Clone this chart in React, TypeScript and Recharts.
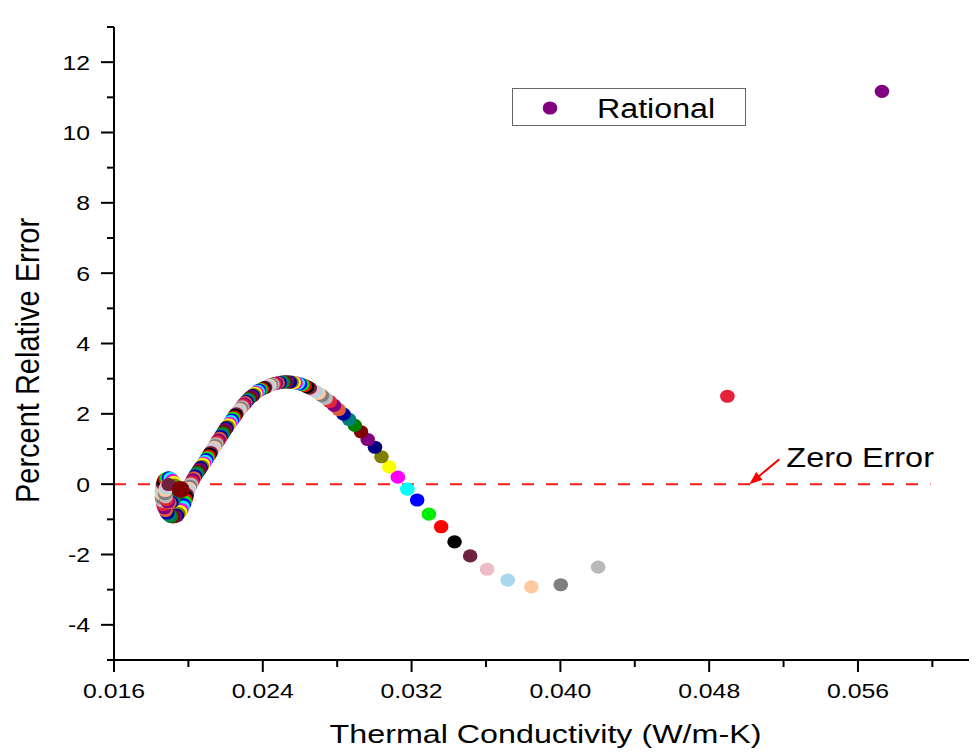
import React from "react";
import { ScatterChart, Scatter, XAxis, YAxis, ReferenceLine, ReferenceDot } from "recharts";

// thermal conductivity (W/m-K), in the plotted order
const conductivity = [
  0.05729, 0.04898, 0.04203, 0.04002, 0.03844, 0.03717, 0.03606, 0.03515, 0.03431, 0.03359,
  0.03293, 0.0323, 0.03177, 0.03126, 0.0308, 0.03038, 0.03003, 0.02964, 0.02928, 0.02895,
  0.02864, 0.02834, 0.02808, 0.02783, 0.0276, 0.02738, 0.02718, 0.027, 0.02683, 0.02667,
  0.02652, 0.02638, 0.02625, 0.02612, 0.026, 0.02588, 0.02577, 0.02566, 0.02555, 0.02545,
  0.0253, 0.0252, 0.0251, 0.025, 0.0249, 0.0248, 0.0247, 0.02461, 0.02452, 0.02444,
  0.02436, 0.02428, 0.0242, 0.02412, 0.02404, 0.02396, 0.02388, 0.0238, 0.02373, 0.02366,
  0.02359, 0.02352, 0.02345, 0.02338, 0.02331, 0.02324, 0.02318, 0.02312, 0.02306, 0.023,
  0.02294, 0.02288, 0.02282, 0.02276, 0.0227, 0.02264, 0.02258, 0.02252, 0.02246, 0.0224,
  0.02234, 0.02228, 0.02222, 0.02216, 0.0221, 0.02204, 0.02198, 0.02192, 0.02186, 0.0218,
  0.02174, 0.02168, 0.02162, 0.02156, 0.0215, 0.02144, 0.02138, 0.02132, 0.02126, 0.0212,
  0.02114, 0.02108, 0.02102, 0.02096, 0.0209, 0.02084, 0.02078, 0.02072, 0.02066, 0.0206,
  0.02054, 0.02048, 0.02042, 0.02036, 0.0203, 0.02024, 0.02018, 0.02013, 0.02008, 0.02003,
  0.01999, 0.01995, 0.01991, 0.01988, 0.01984, 0.0198, 0.01975, 0.01969, 0.01962, 0.01955,
  0.01947, 0.01938, 0.01928, 0.01917, 0.01906, 0.01895, 0.01886, 0.01878, 0.01871, 0.01865,
  0.01861, 0.01858, 0.01857, 0.01857, 0.01859, 0.01863, 0.01869, 0.01876, 0.01885, 0.01895,
  0.01905, 0.01914, 0.01921, 0.01927, 0.01931, 0.01932, 0.0193, 0.01925, 0.01917, 0.01908,
  0.01898, 0.01889, 0.01882, 0.01877, 0.01875, 0.01876, 0.0188, 0.01886, 0.01894, 0.01958,
];

// percent relative error, same order
const relError = [
  11.17, 2.5, -2.36, -2.86, -2.92, -2.73, -2.42, -2.04, -1.64, -1.21,
  -0.85, -0.45, -0.14, 0.2, 0.49, 0.78, 1.05, 1.27, 1.49, 1.67,
  1.84, 1.99, 2.12, 2.24, 2.35, 2.44, 2.52, 2.58, 2.64, 2.69,
  2.73, 2.77, 2.8, 2.83, 2.85, 2.87, 2.88, 2.89, 2.9, 2.9,
  2.91, 2.91, 2.9, 2.9, 2.89, 2.88, 2.87, 2.86, 2.84, 2.83,
  2.81, 2.79, 2.77, 2.75, 2.73, 2.71, 2.69, 2.67, 2.64, 2.61,
  2.58, 2.55, 2.52, 2.49, 2.46, 2.42, 2.39, 2.35, 2.32, 2.28,
  2.24, 2.2, 2.16, 2.12, 2.08, 2.04, 2.0, 1.96, 1.91, 1.87,
  1.82, 1.78, 1.73, 1.69, 1.64, 1.6, 1.55, 1.5, 1.45, 1.4,
  1.35, 1.3, 1.25, 1.2, 1.15, 1.1, 1.05, 1.0, 0.95, 0.9,
  0.85, 0.8, 0.75, 0.7, 0.65, 0.6, 0.56, 0.51, 0.47, 0.42,
  0.37, 0.33, 0.28, 0.23, 0.18, 0.12, 0.06, 0.0, -0.06, -0.12,
  -0.18, -0.24, -0.3, -0.37, -0.44, -0.51, -0.58, -0.65, -0.72, -0.78,
  -0.84, -0.89, -0.92, -0.93, -0.92, -0.88, -0.82, -0.75, -0.67, -0.58,
  -0.48, -0.38, -0.28, -0.18, -0.08, 0.01, 0.09, 0.14, 0.17, 0.18,
  0.16, 0.11, 0.05, -0.03, -0.12, -0.22, -0.32, -0.41, -0.48, -0.52,
  -0.53, -0.5, -0.44, -0.36, -0.27, -0.18, -0.1, -0.04, -0.01, -0.15,
];

const xTicks = [0.016, 0.02, 0.024, 0.028, 0.032, 0.036, 0.04, 0.044, 0.048, 0.052, 0.056, 0.06];
const yTicks = [-5, -4, -3, -2, -1, 0, 1, 2, 3, 4, 5, 6, 7, 8, 9, 10, 11, 12, 13];

const COLORS = [
  "#800080", "#e6213c", "#b9b9b9", "#7f7f7f", "#ffc8a0", "#a8d8ec", "#ecbcc8", "#6e2340",
  "#000000", "#ff0000", "#00ee00", "#0000ff", "#00ffff", "#ff00ff", "#ffff00", "#808000",
  "#000080", "#800080", "#800000", "#008000", "#008080", "#000099", "#e25a3a",
];

const data = conductivity.map((k, i) => ({ k, err: relError[i], idx: i }));

const FONT = "'Liberation Sans', Arial, sans-serif";

function XTick(props: any) {
  const { x, y, payload } = props;
  const v = payload.value;
  const major = Math.round((v - 0.016) / 0.004) % 2 === 0;
  return (
    <g>
      <line x1={x} x2={x} y1={y} y2={y + (major ? 12 : 7)} stroke="#000" strokeWidth={2} />
      {major && (
        <text
          transform={`translate(${x},${y + 38}) scale(1.18,1)`}
          textAnchor="middle"
          fontSize={21}
          fontFamily={FONT}
          fill="#000"
        >
          {v.toFixed(3)}
        </text>
      )}
    </g>
  );
}

function YTick(props: any) {
  const { x, y, payload } = props;
  const v = payload.value;
  const major = v % 2 === 0;
  return (
    <g>
      <line x1={x - (major ? 13 : 7)} x2={x} y1={y} y2={y} stroke="#000" strokeWidth={2} />
      {major && (
        <text
          transform={`translate(${x - 24},${y + 7.5}) scale(1.18,1)`}
          textAnchor="end"
          fontSize={21}
          fontFamily={FONT}
          fill="#000"
        >
          {String(v)}
        </text>
      )}
    </g>
  );
}

function XTitle(props: any) {
  const vb = props.viewBox;
  return (
    <text
      transform={`translate(${vb.x + vb.width / 2},${vb.y + 83}) scale(1.26,1)`}
      textAnchor="middle"
      fontSize={25.6}
      fontFamily={FONT}
      fill="#000"
    >
      Thermal Conductivity (W/m-K)
    </text>
  );
}

function YTitle(props: any) {
  const vb = props.viewBox;
  return (
    <text
      transform={`translate(${vb.x + 31},${vb.y + vb.height / 2 + 17}) rotate(-90) scale(1,1.17)`}
      textAnchor="middle"
      fontSize={29}
      fontFamily={FONT}
      fill="#000"
    >
      Percent Relative Error
    </text>
  );
}

function Dot(props: any) {
  const { cx, cy, payload } = props;
  const last = payload.idx === conductivity.length - 1;
  const fill = last ? "#800000" : COLORS[payload.idx % COLORS.length];
  return <ellipse cx={cx} cy={cy} rx={last ? 9 : 7.3} ry={last ? 8.5 : 6.6} fill={fill} />;
}

function ZeroNote(props: any) {
  const { cx, cy } = props;
  return (
    <g>
      <line x1={cx + 30} y1={cy - 25} x2={cx + 9} y2={cy - 7.5} stroke="#ff0000" strokeWidth={2} />
      <polygon
        points={`${cx},${cy} ${cx + 13.2},${cy - 4.5} ${cx + 6.8},${cy - 12.1}`}
        fill="#ff0000"
      />
      <text
        transform={`translate(${cx + 37},${cy - 17}) scale(1.2,1)`}
        fontSize={27}
        fontFamily={FONT}
        fill="#000"
      >
        Zero Error
      </text>
    </g>
  );
}

export default function App() {
  return (
    <div style={{ position: "relative", width: 969, height: 748, background: "#fff", fontFamily: FONT }}>
      <ScatterChart width={969} height={748} margin={{ top: 19, right: 0, left: 0, bottom: 0 }}>
        <XAxis
          type="number"
          dataKey="k"
          domain={[0.016, 0.0624]}
          ticks={xTicks}
          interval={0}
          tickSize={0}
          tickMargin={0}
          tickLine={false}
          axisLine={{ stroke: "#000", strokeWidth: 2 }}
          tick={XTick}
          height={96}
          allowDataOverflow
          label={{ content: XTitle }}
        />
        <YAxis
          type="number"
          dataKey="err"
          domain={[-5, 13]}
          ticks={yTicks}
          interval={0}
          tickSize={0}
          tickMargin={0}
          tickLine={false}
          axisLine={{ stroke: "#000", strokeWidth: 2 }}
          tick={YTick}
          width={106}
          allowDataOverflow
          label={{ content: YTitle }}
        />
        <ReferenceLine
          segment={[
            { x: 0.016, y: 0 },
            { x: 0.0599, y: 0 },
          ]}
          stroke="#ff1a1a"
          strokeWidth={2}
          strokeDasharray="12 12"
        />
        <Scatter data={data} shape={Dot} isAnimationActive={false} />
        <ReferenceDot x={0.05016} y={0} shape={ZeroNote} />
      </ScatterChart>
      <div
        style={{
          position: "absolute",
          left: 504,
          top: 80,
          width: 232,
          height: 36,
          border: "1px solid #666",
          background: "#fff",
        }}
      >
        <svg width={232} height={36}>
          <ellipse cx={37} cy={19} rx={7.3} ry={6.6} fill="#800080" />
          <text
            transform="translate(84,28.5) scale(1.15,1)"
            fontSize={28}
            fontFamily={FONT}
            fill="#000"
          >
            Rational
          </text>
        </svg>
      </div>
    </div>
  );
}
